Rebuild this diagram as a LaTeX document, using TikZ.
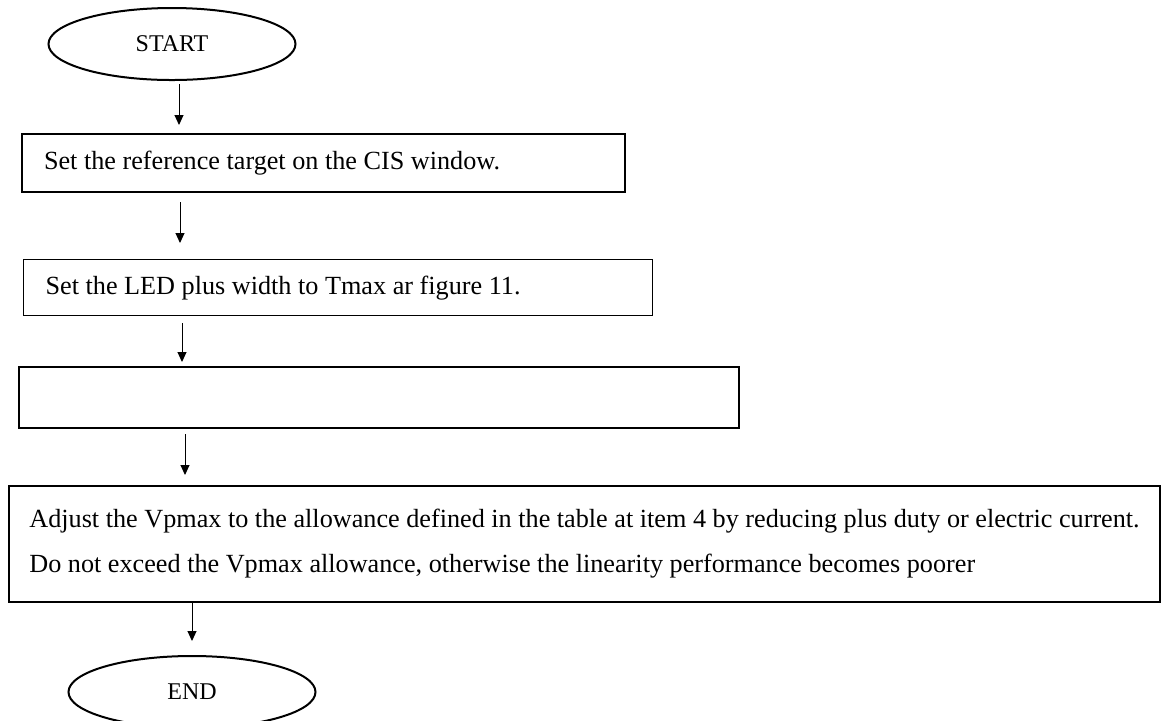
\documentclass[tikz,border=0pt]{standalone}
\usepackage{fontspec}
\setmainfont{Liberation Serif}
\usetikzlibrary{arrows.meta}
\usetikzlibrary{shapes.geometric}

\begin{document}
\begin{tikzpicture}[x=0.5pt, y=-0.5pt]
    \tikzset{>={Triangle[length=5pt, width=4.5pt]}}
    \tikzset{terminal/.style={draw, ellipse, line width=1pt, inner sep=0pt,
        minimum width=123.5pt, minimum height=36pt, font=\fontsize{12pt}{14pt}\selectfont}}
    \tikzset{stepbox/.style={draw, rectangle, line width=1pt, anchor=north west,
        inner xsep=11pt, align=flush left, font=\fontsize{13.1pt}{22.5pt}\selectfont}}
    \tikzset{flow/.style={->, line width=0.5pt}}

    \useasboundingbox (0, 0) rectangle (1162, 720);

    % Draw the start and end
    \node[terminal] (start) at (172, 44) {START};
    \node[terminal] (stop) at (192, 692) {END};

    % Draw the steps
    \node[stepbox, text width=279.5pt, minimum height=29pt] (setref) at (21, 133)
        {Set the reference target on the CIS window.};
    \node[stepbox, line width=0.6pt, text width=292.5pt, minimum height=28pt] (setled) at (23, 259)
        {Set the LED plus width to Tmax ar figure 11.};
    \node[stepbox, text width=338pt, minimum height=30.5pt] (blank) at (18, 366) {};
    \node[stepbox, inner xsep=10pt, minimum width=575.5pt, minimum height=58pt] (adjust) at (8, 485)
        {Adjust the Vpmax to the allowance defined in the table at item 4 by reducing plus duty or electric current.\\
         Do not exceed the Vpmax allowance, otherwise the linearity performance becomes poorer};

    % Draw the arrows
    \coordinate (c1) at (179, 0);
    \coordinate (c2) at (180, 0);
    \coordinate (c3) at (182, 0);
    \coordinate (c4) at (185, 0);

    \draw[flow, shorten <=1.5pt, shorten >=4pt] (start.south -| c1) -- (setref.north -| c1);
    \draw[flow, shorten <=4.5pt, shorten >=8pt] (setref.south -| c2) -- (setled.north -| c2);
    \draw[flow, shorten <=3.5pt, shorten >=2pt] (setled.south -| c3) -- (blank.north -| c3);
    \draw[flow, shorten <=2.5pt, shorten >=5pt] (blank.south -| c4) -- (adjust.north -| c4);
    \draw[flow, shorten >=7pt] (adjust.south -| stop.north) -- (stop.north);
\end{tikzpicture}
\end{document}
